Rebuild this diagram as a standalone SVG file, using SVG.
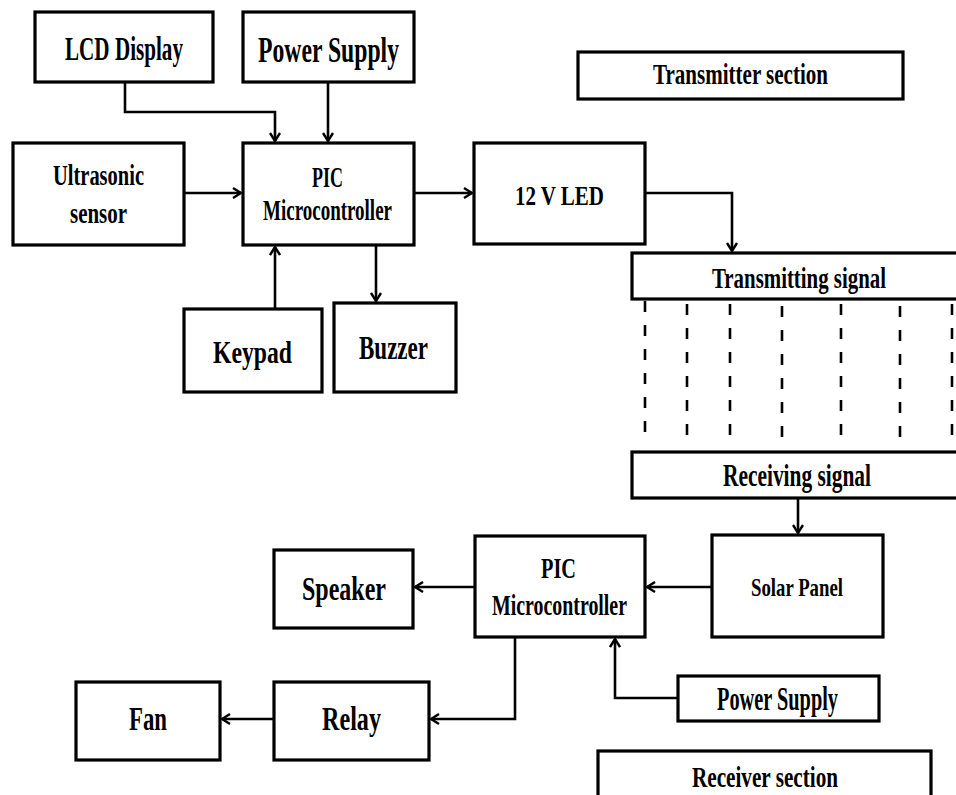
<svg xmlns="http://www.w3.org/2000/svg" width="956" height="795" viewBox="0 0 956 795">
<style>
.box{fill:#fff;stroke:#000;stroke-width:3.2}
.t{font-family:"Liberation Serif","Times New Roman",serif;font-weight:bold;fill:#000}
.c{fill:none;stroke:#000;stroke-width:2.6}
.d{fill:none;stroke:#000;stroke-width:2.6;stroke-dasharray:11 13}
</style>
<defs>
<marker id="ah" viewBox="0 0 10 12" refX="9" refY="6" markerWidth="10" markerHeight="12" markerUnits="userSpaceOnUse" orient="auto">
<path d="M1,1 L9,6 L1,11" fill="none" stroke="#000" stroke-width="2.4"/>
</marker>
</defs>
<rect width="956" height="795" fill="#fff"/>
<g id="connectors">
<path class="c" d="M125,82 V112 H275 V141" marker-end="url(#ah)"/>
<path class="c" d="M328,82 V141" marker-end="url(#ah)"/>
<path class="c" d="M184,193 H241" marker-end="url(#ah)"/>
<path class="c" d="M414,193 H472" marker-end="url(#ah)"/>
<path class="c" d="M275,309 V247" marker-end="url(#ah)"/>
<path class="c" d="M376,245 V301" marker-end="url(#ah)"/>
<path class="c" d="M645,193 H732 V251" marker-end="url(#ah)"/>
<path class="d" d="M645,301 V445 M687,304 V445 M730,304 V445 M782,306 V445 M841,304 V445 M900,306 V445 M952,304 V445"/>
<path class="c" d="M798,498 V533" marker-end="url(#ah)"/>
<path class="c" d="M712,587 H647" marker-end="url(#ah)"/>
<path class="c" d="M475,587 H415" marker-end="url(#ah)"/>
<path class="c" d="M515,637 V719 H431" marker-end="url(#ah)"/>
<path class="c" d="M274,719 H222" marker-end="url(#ah)"/>
<path class="c" d="M678,698 H615 V639" marker-end="url(#ah)"/>
</g>
<g id="lcd"><rect class="box" x="35" y="12" width="178" height="70"/><text class="t" x="65" y="60" font-size="34" textLength="118" lengthAdjust="spacingAndGlyphs">LCD Display</text></g>
<g id="power1"><rect class="box" x="243" y="12" width="171" height="70"/><text class="t" x="258" y="62" font-size="35" textLength="141" lengthAdjust="spacingAndGlyphs">Power Supply</text></g>
<g id="tx-section"><rect class="box" x="578" y="52" width="325" height="47"/><text class="t" x="653" y="84" font-size="29" textLength="175" lengthAdjust="spacingAndGlyphs">Transmitter section</text></g>
<g id="ultrasonic"><rect class="box" x="13" y="143" width="171" height="102"/><text class="t" x="53" y="185" font-size="30" textLength="91" lengthAdjust="spacingAndGlyphs">Ultrasonic</text><text class="t" x="70" y="223" font-size="30" textLength="57" lengthAdjust="spacingAndGlyphs">sensor</text></g>
<g id="pic1"><rect class="box" x="243" y="143" width="171" height="102"/><text class="t" x="312" y="187" font-size="29" textLength="31" lengthAdjust="spacingAndGlyphs">PIC</text><text class="t" x="263" y="220" font-size="30" textLength="129" lengthAdjust="spacingAndGlyphs">Microcontroller</text></g>
<g id="led"><rect class="box" x="474" y="143" width="171" height="101"/><text class="t" x="515" y="205" font-size="28" textLength="89" lengthAdjust="spacingAndGlyphs">12 V LED</text></g>
<g id="tx-signal"><rect class="box" x="632" y="253" width="340" height="46"/><text class="t" x="712" y="288" font-size="29" textLength="174" lengthAdjust="spacingAndGlyphs">Transmitting  signal</text></g>
<g id="keypad"><rect class="box" x="184" y="309" width="138" height="83"/><text class="t" x="213" y="363" font-size="32" textLength="79" lengthAdjust="spacingAndGlyphs">Keypad</text></g>
<g id="buzzer"><rect class="box" x="334" y="303" width="122" height="89"/><text class="t" x="359" y="359" font-size="33" textLength="69" lengthAdjust="spacingAndGlyphs">Buzzer</text></g>
<g id="rx-signal"><rect class="box" x="632" y="452" width="340" height="46"/><text class="t" x="723" y="486" font-size="31" textLength="148" lengthAdjust="spacingAndGlyphs">Receiving signal</text></g>
<g id="solar"><rect class="box" x="712" y="535" width="171" height="102"/><text class="t" x="751" y="596" font-size="25" textLength="92" lengthAdjust="spacingAndGlyphs">Solar Panel</text></g>
<g id="pic2"><rect class="box" x="475" y="536" width="170" height="101"/><text class="t" x="541" y="578" font-size="29" textLength="35" lengthAdjust="spacingAndGlyphs">PIC</text><text class="t" x="492" y="615" font-size="30" textLength="135" lengthAdjust="spacingAndGlyphs">Microcontroller</text></g>
<g id="speaker"><rect class="box" x="274" y="550" width="139" height="78"/><text class="t" x="302" y="600" font-size="34" textLength="84" lengthAdjust="spacingAndGlyphs">Speaker</text></g>
<g id="fan"><rect class="box" x="76" y="682" width="144" height="78"/><text class="t" x="129" y="730" font-size="33" textLength="38" lengthAdjust="spacingAndGlyphs">Fan</text></g>
<g id="relay"><rect class="box" x="274" y="682" width="155" height="78"/><text class="t" x="322" y="730" font-size="33" textLength="59" lengthAdjust="spacingAndGlyphs">Relay</text></g>
<g id="power2"><rect class="box" x="678" y="676" width="201" height="45"/><text class="t" x="717" y="710" font-size="33" textLength="121" lengthAdjust="spacingAndGlyphs">Power Supply</text></g>
<g id="rx-section"><rect class="box" x="598" y="751" width="333" height="60"/><text class="t" x="692" y="787" font-size="29" textLength="146" lengthAdjust="spacingAndGlyphs">Receiver section</text></g>
</svg>
